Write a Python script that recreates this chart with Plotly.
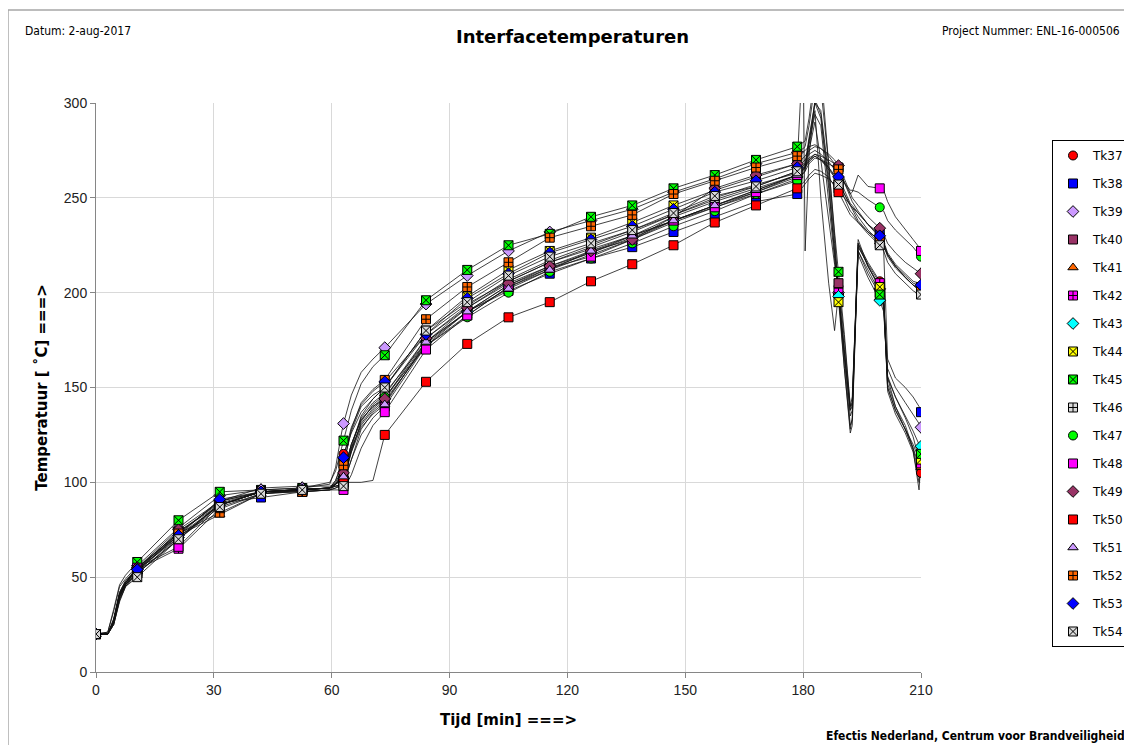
import plotly.graph_objects as go

# shared time grid for the measured curves [min]
LINE_T = [0, 3, 4.5, 6, 7.5, 10.5, 21, 31.5, 42, 52.5,
          59.5, 61, 62.5, 63, 65, 67.5, 70.5, 73.5,
          84, 94.5, 105, 115.5, 126, 136.5, 147, 157.5, 168, 178.5,
          180, 180.5, 181.5, 183, 184.5, 186.5, 188, 189,
          190.5, 192, 192.5, 194, 196.5, 199.5,
          200.5, 201.5, 203.5, 206, 208, 209.5, 210]

# times at which a marker is drawn [min]
MARKER_T = [0, 10.5, 21, 31.5, 42, 52.5, 63, 73.5, 84, 94.5, 105, 115.5,
            126, 136.5, 147, 157.5, 168, 178.5, 189, 199.5, 210]

SENSORS = ["Tk37", "Tk38", "Tk39", "Tk40", "Tk41", "Tk42", "Tk43", "Tk44", "Tk45",
           "Tk46", "Tk47", "Tk48", "Tk49", "Tk50", "Tk51", "Tk52", "Tk53", "Tk54"]

TK37 = [20, 20, 28, 42, 48, 55, 72, 88, 95, 96, 97, 101, 110, 115, 126, 137, 144, 150,
        178, 194, 206, 216, 223, 230, 240, 248, 255, 262, 265, 266, 280, 300, 292, 255, 222, 203,
        170, 138, 142, 226, 216, 206, 198, 155, 140, 128, 118, 109, 105]
TK38 = [20, 20, 26, 39, 46, 52, 70, 89, 92, 95, 96, 97, 99, 100, 112, 125, 134, 140,
        172, 190, 201, 210, 218, 224, 232, 240, 248, 252, 256, 257, 260, 263, 262, 260, 257, 255,
        250, 246, 245, 242, 236, 231, 222, 165, 155, 150, 145, 140, 137]
TK39 = [20, 21, 32, 45, 49, 56, 76, 93, 96, 97, 99, 108, 126, 131, 146, 158, 165, 171,
        194, 209, 222, 232, 238, 244, 253, 260, 268, 274, 276, 277, 288, 310, 318, 270, 230, 200,
        160, 128, 134, 228, 214, 202, 196, 160, 150, 142, 136, 131, 129]
TK40 = [20, 20, 27, 41, 47, 54, 74, 89, 95, 96, 97, 99, 102, 104, 118, 130, 138, 143,
        172, 188, 203, 212, 220, 228, 237, 245, 252, 260, 263, 264, 275, 290, 270, 238, 215, 205,
        175, 140, 145, 222, 212, 200, 194, 150, 138, 128, 120, 112, 113]
TK41 = [20, 20, 25, 38, 45, 53, 72, 83, 94, 96, 97, 99, 102, 104, 120, 134, 142, 147,
        174, 192, 206, 216, 224, 232, 241, 249, 256, 264, 267, 268, 282, 300, 296, 262, 226, 200,
        168, 135, 138, 226, 214, 203, 196, 152, 140, 130, 118, 104, 108]
TK42 = [20, 20, 26, 40, 46, 54, 65, 86, 94, 95, 96, 97, 98, 99, 112, 128, 137, 142,
        173, 190, 204, 213, 221, 230, 238, 246, 254, 262, 265, 266, 280, 296, 250, 205, 180, 200,
        165, 130, 133, 224, 215, 205, 197, 148, 136, 126, 116, 100, 110]
TK43 = [20, 20, 27, 41, 47, 54, 71, 88, 95, 96, 97, 99, 101, 102, 117, 131, 139, 144,
        174, 190, 204, 214, 221, 229, 238, 246, 253, 261, 264, 265, 278, 294, 288, 250, 218, 198,
        168, 138, 140, 220, 208, 196, 190, 155, 145, 135, 127, 120, 119]
TK44 = [20, 20, 28, 42, 48, 54, 74, 88, 95, 96, 97, 100, 106, 110, 127, 140, 146, 150,
        180, 198, 212, 222, 229, 237, 246, 254, 261, 268, 330, 222, 272, 302, 294, 258, 220, 195,
        160, 126, 130, 225, 214, 203, 196, 150, 138, 128, 117, 96, 112]
TK45 = [20, 21, 33, 46, 51, 58, 80, 95, 96, 97, 100, 106, 118, 122, 138, 152, 161, 167,
        196, 212, 225, 231, 240, 246, 255, 262, 270, 277, 279, 280, 292, 315, 308, 268, 232, 211,
        178, 140, 142, 222, 210, 199, 192, 156, 145, 134, 124, 112, 115]
TK46 = [20, 20, 26, 39, 46, 52, 71, 88, 95, 96, 97, 98, 99, 100, 116, 132, 141, 146,
        176, 193, 207, 217, 225, 233, 241, 250, 257, 263, 266, 267, 270, 272, 270, 265, 261, 258,
        252, 246, 244, 238, 232, 226, 224, 220, 214, 208, 204, 201, 200]
TK47 = [20, 20, 27, 41, 47, 55, 73, 90, 95, 96, 97, 99, 103, 105, 120, 133, 140, 145,
        172, 187, 200, 211, 218, 226, 235, 243, 252, 259, 263, 264, 268, 271, 270, 268, 266, 265,
        258, 254, 254, 253, 249, 245, 243, 238, 233, 228, 224, 220, 219]
TK48 = [20, 20, 26, 40, 46, 55, 66, 88, 95, 95, 96, 96, 96, 96, 104, 118, 130, 137,
        170, 188, 203, 213, 219, 228, 238, 245, 253, 262, 265, 266, 270, 273, 272, 270, 268, 266,
        258, 252, 253, 262, 256, 255, 254, 248, 240, 233, 228, 224, 222]
TK49 = [20, 20, 27, 41, 47, 55, 75, 90, 95, 96, 97, 99, 103, 105, 120, 133, 140, 144,
        176, 192, 205, 214, 222, 228, 240, 255, 262, 268, 271, 272, 275, 277, 276, 273, 270, 267,
        260, 252, 250, 246, 240, 234, 231, 226, 221, 216, 213, 211, 210]
TK50 = [20, 20, 25, 37, 45, 52, 70, 88, 95, 96, 97, 98, 99, 100, 100, 100, 101, 125,
        153, 173, 187, 195, 206, 215, 225, 237, 246, 255, 258, 259, 262, 265, 264, 261, 256, 253,
        247, 241, 240, 237, 232, 228, 226, 220, 214, 208, 204, 202, 201]
TK51 = [20, 20, 27, 41, 47, 55, 73, 90, 97, 98, 98, 99, 101, 103, 116, 129, 136, 141,
        174, 190, 202, 212, 222, 230, 238, 246, 254, 262, 265, 266, 269, 272, 270, 266, 262, 259,
        252, 246, 245, 240, 233, 227, 225, 219, 213, 208, 204, 202, 201]
TK52 = [20, 20, 26, 40, 46, 53, 73, 84, 94, 95, 96, 99, 105, 109, 128, 142, 149, 154,
        186, 203, 216, 229, 235, 241, 252, 259, 266, 272, 274, 275, 277, 278, 276, 272, 268, 265,
        258, 250, 248, 243, 236, 229, 226, 220, 214, 209, 205, 204, 203]
TK53 = [20, 20, 27, 41, 47, 54, 72, 91, 95, 96, 97, 101, 109, 113, 129, 141, 148, 153,
        178, 197, 210, 221, 228, 235, 244, 253, 259, 266, 269, 270, 273, 275, 273, 269, 265, 261,
        254, 247, 246, 242, 236, 230, 227, 221, 215, 210, 206, 205, 204]
TK54 = [20, 20, 25, 38, 45, 50, 70, 87, 94, 96, 97, 98, 98, 98, 118, 135, 144, 150,
        180, 195, 209, 219, 226, 233, 242, 251, 256, 264, 267, 268, 271, 273, 271, 266, 261, 257,
        250, 243, 242, 237, 231, 225, 222, 216, 210, 205, 201, 199, 199]

VALUES = [TK37, TK38, TK39, TK40, TK41, TK42, TK43, TK44, TK45,
          TK46, TK47, TK48, TK49, TK50, TK51, TK52, TK53, TK54]

X_TICKS = [0, 30, 60, 90, 120, 150, 180, 210]
Y_TICKS = [0, 50, 100, 150, 200, 250, 300]

# marker styles (symbol, fill colour)
STYLES = {
    "Tk37": ("circle", "#FF0000"),
    "Tk38": ("square", "#0000FF"),
    "Tk39": ("diamond", "#CC99FF"),
    "Tk40": ("square", "#993366"),
    "Tk41": ("triangle-up", "#FF6600"),
    "Tk42": ("square-cross", "#FF00FF"),
    "Tk43": ("diamond", "#00FFFF"),
    "Tk44": ("square-x", "#FFFF00"),
    "Tk45": ("square-x", "#00FF00"),
    "Tk46": ("square-cross", "#D9D9D9"),
    "Tk47": ("circle", "#00FF00"),
    "Tk48": ("square", "#FF00FF"),
    "Tk49": ("diamond", "#993366"),
    "Tk50": ("square", "#FF0000"),
    "Tk51": ("triangle-up", "#CC99FF"),
    "Tk52": ("square-cross", "#FF6600"),
    "Tk53": ("diamond", "#0000FF"),
    "Tk54": ("square-x", "#D9D9D9"),
}

fig = go.Figure()

# measured curves (thin black lines)
for name, vals in zip(SENSORS, VALUES):
    fig.add_trace(go.Scatter(
        x=LINE_T, y=vals, mode="lines", legendgroup=name, showlegend=False,
        line=dict(color="#111111", width=0.8), hoverinfo="skip"))

# markers
for name, vals in zip(SENSORS, VALUES):
    mx = [t for t in LINE_T if t in MARKER_T]
    my = [v for t, v in zip(LINE_T, vals) if t in MARKER_T]
    sym, col = STYLES[name]
    fig.add_trace(go.Scatter(
        x=mx, y=my, mode="markers", name=name, legendgroup=name,
        marker=dict(symbol=sym, color=col, size=9,
                    line=dict(color="#000000", width=1))))

# the page has an 8px body margin: the figure is placed at (8, 8)
fig.update_layout(
    width=1124, height=737,
    margin=dict(l=88, r=211, t=95, b=73, autoexpand=False),
    paper_bgcolor="white", plot_bgcolor="white",
    showlegend=True,
    legend=dict(x=1.1588, xanchor="left", y=0.935, yanchor="top",
                bordercolor="#000000", borderwidth=1, bgcolor="white",
                traceorder="grouped", tracegroupgap=9, itemwidth=30,
                font=dict(family="DejaVu Sans", size=12, color="#000000")),
    xaxis=dict(range=[0, 210], tickvals=X_TICKS, showgrid=True, gridcolor="#D9D9D9",
               gridwidth=1, zeroline=False, showline=True, linecolor="#868686", linewidth=1,
               ticks="outside", ticklen=5, tickcolor="#868686",
               tickfont=dict(family="Liberation Sans", size=14, color="#222222"),
               title=dict(text="<b>Tijd [min] ===></b>", standoff=17,
                          font=dict(family="DejaVu Sans", size=15, color="#000000"))),
    yaxis=dict(range=[0, 300], tickvals=Y_TICKS, showgrid=True, gridcolor="#D9D9D9",
               gridwidth=1, zeroline=False, showline=True, linecolor="#868686", linewidth=1,
               ticks="outside", ticklen=5, tickcolor="#868686",
               tickfont=dict(family="Liberation Sans", size=14, color="#222222"),
               title=dict(text="<b>Temperatuur [ ˚C] ===></b>", standoff=12,
                          font=dict(family="DejaVu Sans", size=15, color="#000000"))),
)

# page frame
fig.add_shape(type="line", xref="paper", yref="paper", x0=-0.1067, x1=1.3, y0=1.1634, y1=1.1634,
              line=dict(color="#A6A6A6", width=1.5))
fig.add_shape(type="line", xref="paper", yref="paper", x0=-0.1067, x1=-0.1067, y0=-0.2, y1=1.1634,
              line=dict(color="#A6A6A6", width=1.5))

fig.add_annotation(text="<b>Interfacetemperaturen</b>", xref="paper", yref="paper",
                   x=0.578, y=1.116, xanchor="center", yanchor="middle", showarrow=False,
                   font=dict(family="DejaVu Sans", size=18, color="#000000"))
fig.add_annotation(text="Datum: 2-aug-2017", xref="paper", yref="paper",
                   x=-0.0885, y=1.127, xanchor="left", yanchor="middle", showarrow=False,
                   font=dict(family="Liberation Sans Narrow, DejaVu Sans Condensed, Liberation Sans",
                             size=12, color="#000000"))
fig.add_annotation(text="Project Nummer: ENL-16-000506", xref="paper", yref="paper",
                   x=1.2436, y=1.127, xanchor="right", yanchor="middle", showarrow=False,
                   font=dict(family="Liberation Sans Narrow, DejaVu Sans Condensed, Liberation Sans",
                             size=12, color="#000000"))
fig.add_annotation(text="<b>Efectis Nederland, Centrum voor Brandveiligheid</b>", xref="paper",
                   yref="paper", x=1.2497, y=-0.112, xanchor="right", yanchor="middle",
                   showarrow=False,
                   font=dict(family="Liberation Sans Narrow, DejaVu Sans Condensed, Liberation Sans",
                             size=12, color="#000000"))

fig.write_html("out.html")
